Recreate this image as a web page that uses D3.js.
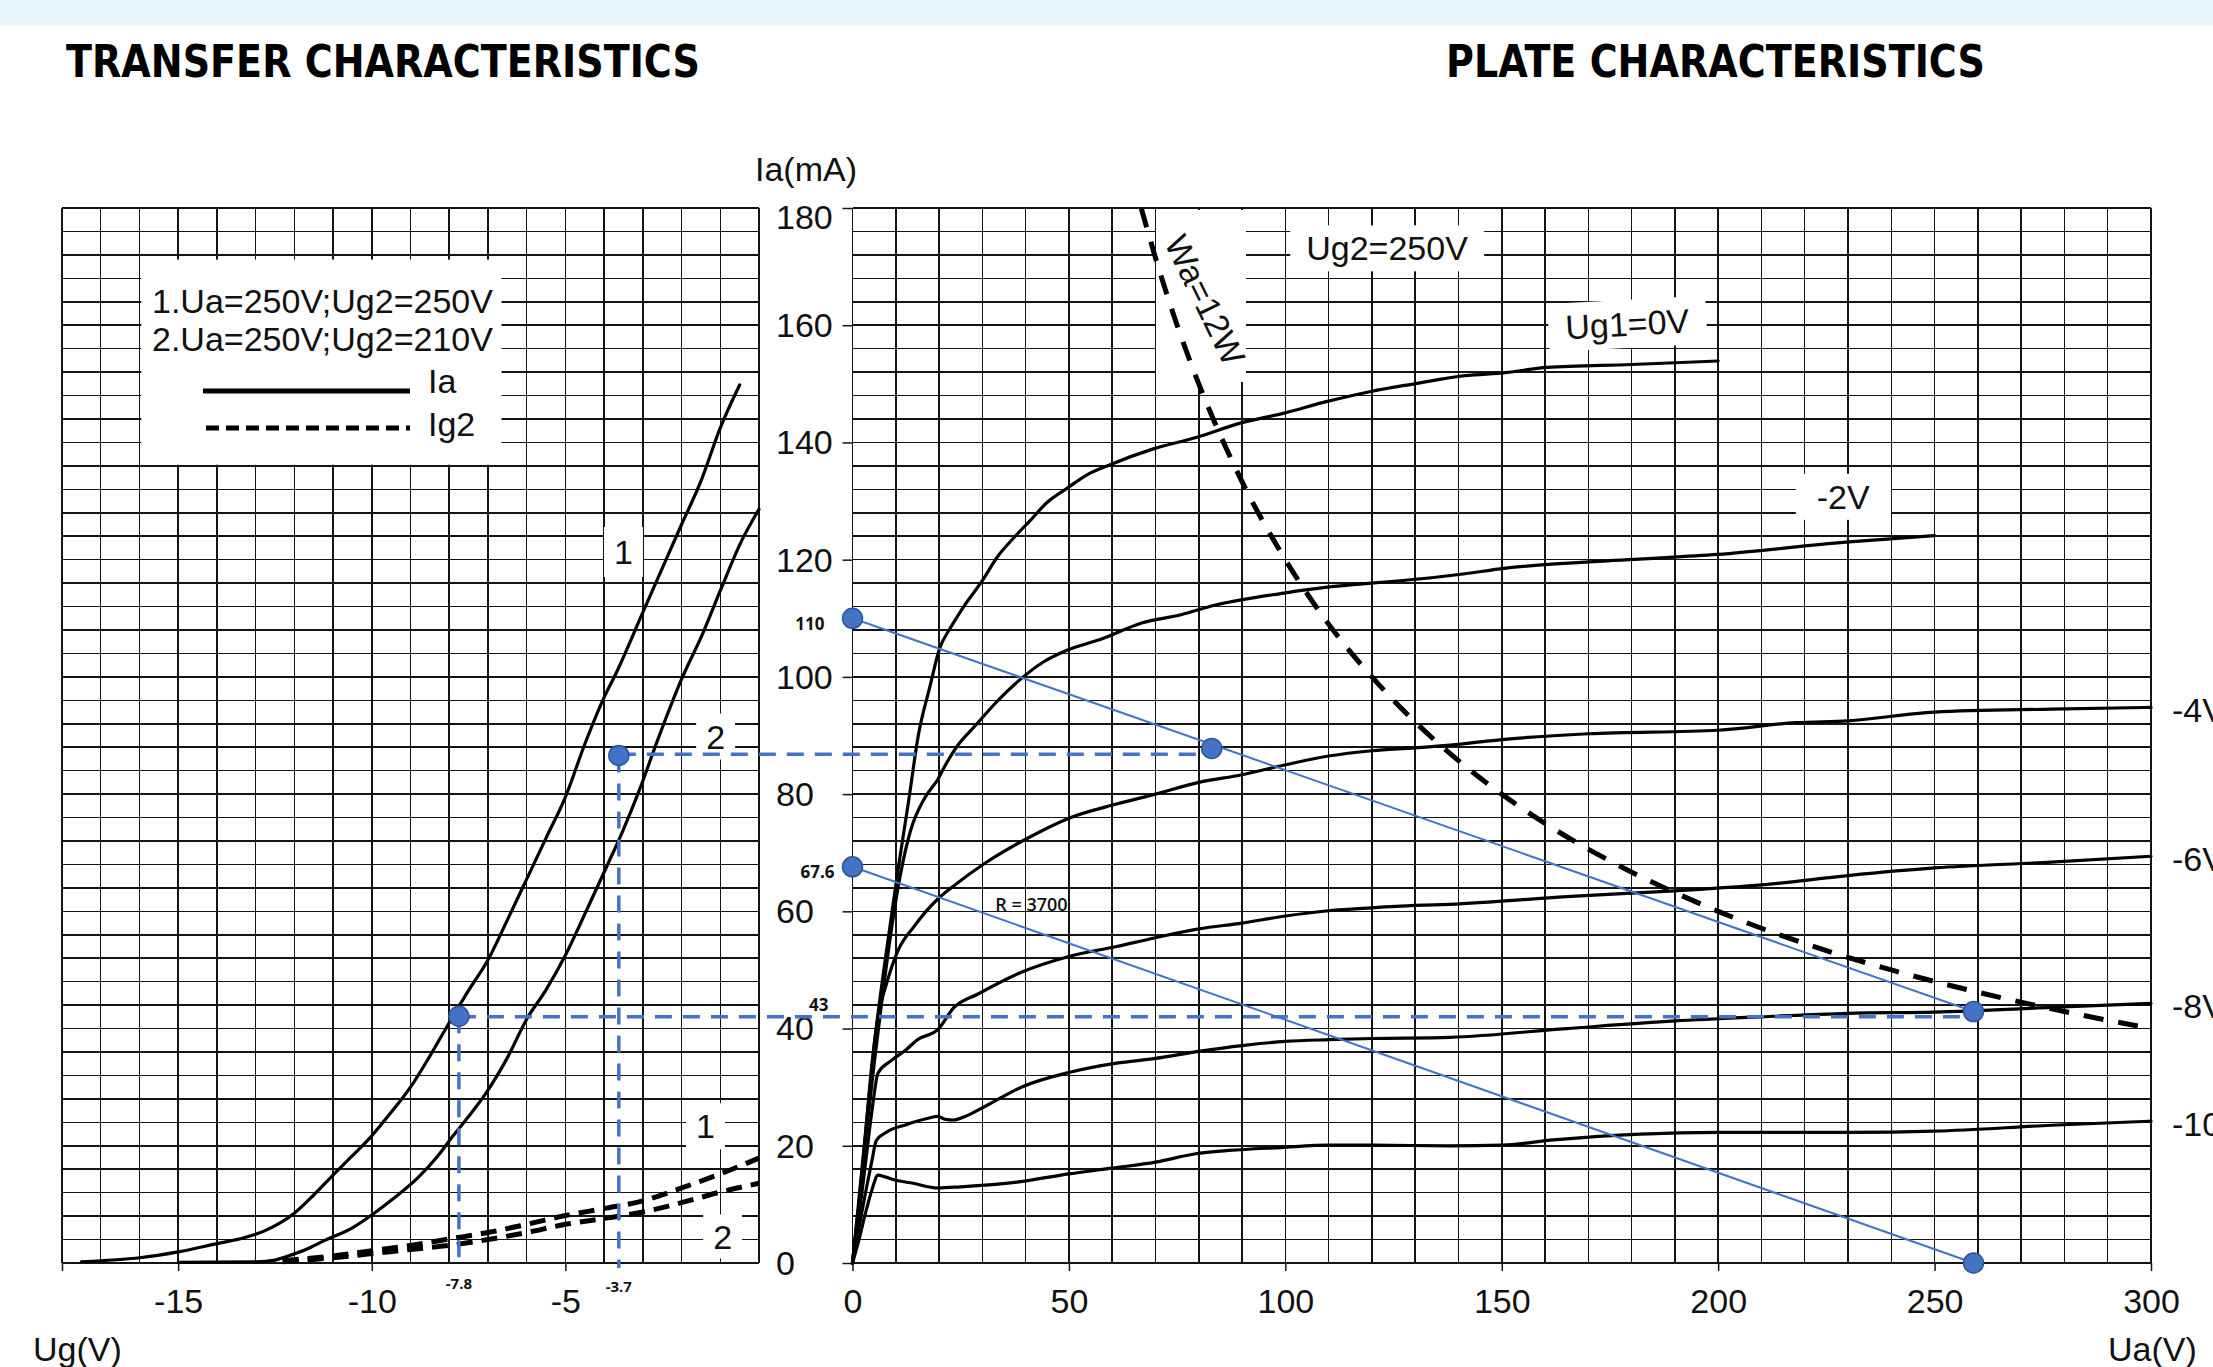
<!DOCTYPE html>
<html><head><meta charset="utf-8">
<script src="https://cdn.jsdelivr.net/npm/d3@7"></script>
<style>
html,body{margin:0;padding:0;background:#fff;overflow:hidden}
svg{display:block}
</style></head><body>
<svg id="chart" width="2213" height="1367"></svg>
<script>
// ================= DATA =================
const transferXTicks = [-15, -10, -5];
const plateXTicks = [0, 50, 100, 150, 200, 250, 300];
const iaTicks = [0, 20, 40, 60, 80, 100, 120, 140, 160, 180];

// Transfer characteristics: [Ug1 (V), mA]
const ia1 = [[-17.5,0.2],[-16.5,0.6],[-16,0.9],[-15,1.9],[-14,3.3],[-13.3,4.3],[-12.8,5.4],[-12.4,6.7],[-12,8.5],[-11.5,11.6],[-11,15],[-10.5,18.3],[-10,21.7],[-9.5,25.7],[-9,30],[-8.5,35.3],[-8,41],[-7.5,46.5],[-7,51.7],[-6.5,58.5],[-6,65.5],[-5.5,72.5],[-5,79.5],[-4.5,88.5],[-4,96.5],[-3.7,100.5],[-3,111],[-2.5,118.5],[-2,126],[-1.5,133.4],[-1,142.5],[-0.5,149.8]];
const ia2 = [[-15,0.1],[-13,0.2],[-12.5,0.5],[-12.2,1.1],[-11.7,2.3],[-11.2,3.9],[-10.5,6],[-10,8.2],[-9.4,11.2],[-8.8,14.6],[-8.3,18.2],[-7.9,21.7],[-7.5,25],[-7.1,28.5],[-6.5,35],[-6,41.6],[-5.5,46.6],[-5,52.5],[-4.5,59.5],[-3.95,67.4],[-3.5,74],[-3.1,80.5],[-2.63,89],[-2,99.6],[-1.44,107.6],[-1,114.7],[-0.45,123.2],[0,128.6]];
const ig2a = [[-12.3,0.4],[-11,1.2],[-10,2.1],[-9,3.0],[-8,4.1],[-7,5.2],[-6,6.6],[-5,8.1],[-4,9.3],[-3,10.6],[-2,12.8],[-1,15.2],[0,17.9]];
const ig2b = [[-12.3,0.2],[-11,0.9],[-10,1.6],[-9,2.3],[-8,3.0],[-7,4.0],[-6,5.2],[-5,6.6],[-4,7.6],[-3,8.7],[-2,10.3],[-1,12.1],[0,13.6]];

// Plate characteristics: [Ua (V), mA]
const ug1_0  = [[0,0],[1.5,11],[3.2,23.6],[5,37],[7.8,53],[10.5,67],[13,79],[15.2,90],[17.9,98.4],[20.2,105],[22.5,108.2],[25.7,112],[29.8,116.2],[33.5,120.5],[37.6,124],[41.2,126.8],[45,129.8],[49.4,132.1],[54,134.4],[59.5,136.2],[69.5,138.9],[79.6,140.9],[89.6,143.3],[99.7,145],[109.7,147],[119.8,148.7],[129.8,150],[141.5,151.4],[150.9,151.9],[160.4,152.8],[180,153.3],[200,153.9]];
const ug1_m2 = [[0,0],[1.5,10],[3,21],[5,34],[7,46],[9,57],[11,66],[13.3,73.5],[16.9,79.6],[19.7,82.5],[21.5,85],[24,88],[28.4,91.7],[33,95.5],[38.5,99.4],[44,102.5],[49.4,104.5],[57.7,106.5],[66.8,109.2],[75.9,110.6],[84.1,112.3],[99.7,114.3],[109.7,115.3],[119.8,116],[126.5,116.4],[141.5,117.6],[150.5,118.5],[179.2,120],[199.8,120.9],[229.5,123],[250,124.1]];
const ug1_m4 = [[0,0],[1.5,10],[3,22],[4.5,34],[5.9,42],[7.8,47.5],[10.5,53.3],[14.2,57.4],[19.7,62.1],[23.3,64.3],[30.6,68.2],[40,72.3],[50,75.9],[61,78.3],[70,80],[80,82],[90,83.3],[100,85],[110,86.5],[120,87.4],[130,87.9],[140,88.5],[150,89.3],[170,90.3],[200,90.9],[218,92.2],[230,92.5],[250,94],[277,94.5],[300,94.8]];
const ug1_m6 = [[0,0],[1.5,8],[3,17],[4.5,26],[5.9,32.4],[8.7,34.4],[12.4,36.4],[15,38.1],[19.7,39.8],[23.3,43.5],[29,45.9],[39,49.6],[50,52.3],[61,54],[70,55.5],[80,57],[90,58],[100,59.2],[110,60.1],[120,60.6],[130,61],[138,61.2],[165,62.5],[190,63.5],[210,64.5],[230,66.1],[250,67.4],[277,68.4],[300,69.4]];
const ug1_m8 = [[0,0],[1.5,6],[3,12],[4.5,17.5],[5.5,20.9],[7.8,22.3],[12.4,23.6],[17,24.6],[19.7,25],[21.5,24.5],[23.3,24.4],[26,25],[30.6,26.7],[39,30],[50,32.5],[61,34.1],[70,34.9],[80,36.1],[90,37.1],[100,37.8],[110,38.1],[120,38.3],[138,38.5],[165,40],[190,41.3],[210,42],[230,42.6],[250,42.8],[277,43.6],[300,44.3]];
const ug1_m10 = [[0,0],[1.5,4],[3,8.5],[4.5,12.5],[5.9,15],[7.5,14.7],[9.6,14.2],[14,13.6],[19.7,12.8],[25,13],[38,13.8],[50,15.2],[60,16.2],[70,17.2],[79,18.6],[87,19.2],[99,19.7],[110,20.1],[120,20.1],[138,20],[150,20.1],[162,21],[182,22],[200,22.3],[230,22.3],[250,22.5],[277,23.5],[300,24.2]];
const wa12W = [[66.7,180],[70,171.5],[75,160],[80,150],[85,141.2],[90,133.3],[100,120],[110,109],[120,100],[130,92.3],[140,85.7],[150,80],[160,75],[175,68.6],[190,63.2],[200,60],[220,54.5],[240,50],[260,46.2],[280,42.9],[300,40]];

const plateCurveNames = ["Ug1=0V", "-2V", "-4V", "-6V", "-8V", "-10V"];

// Load lines and operating points
const loadLine1 = [[0,110],[259,42.9]];
const loadLine2 = [[0,67.6],[259,0]];
const plateDots = [[0,110],[83,87.8],[259,42.9],[0,67.6],[259,0]];
const transferDots = [[-7.75,42.1],[-3.62,86.6]];
const projLevels = [42.0, 86.8];          // mA of dashed projections
const projPlateEnd = [259, 81];           // Ua where dashed projection ends
const gridVoltages = [-7.8, -3.7];        // annotated Ug values

// ================= DRAWING =================
const svg = d3.select("#chart");
const FONT = '"Liberation Sans", Arial, sans-serif';
const INK = "#111";
const BLUE = "#4472C4";

const xL = d3.scaleLinear().domain([-18, 0]).range([62, 759]);
const xP = d3.scaleLinear().domain([0, 300]).range([852.5, 2151]);
const y  = d3.scaleLinear().domain([0, 180]).range([1263, 208]);

// background band
svg.append("rect").attr("x",0).attr("y",0).attr("width",2213).attr("height",26).attr("fill","#EAF5FC");

// titles
const titleFont = '"Liberation Sans Narrow","Arial Narrow","DejaVu Sans Condensed",sans-serif';
svg.append("text").attr("x",66).attr("y",77).attr("font-family",titleFont).attr("font-weight","bold")
  .attr("font-size",44).attr("textLength",634).attr("lengthAdjust","spacingAndGlyphs").attr("fill","#000")
  .text("TRANSFER CHARACTERISTICS");
svg.append("text").attr("x",1446).attr("y",77).attr("font-family",titleFont).attr("font-weight","bold")
  .attr("font-size",44).attr("textLength",539).attr("lengthAdjust","spacingAndGlyphs").attr("fill","#000")
  .text("PLATE CHARACTERISTICS");

// grids
function grid(xs, xDomain, step) {
  const g = svg.append("g").attr("stroke", "#141414").attr("stroke-width", 1.5).attr("shape-rendering","crispEdges");
  const xv = d3.range(xDomain[0], xDomain[1] + step/2, step);
  const yv = d3.range(0, 180 + 2, 4);
  g.selectAll("line.v").data(xv).join("line").attr("class","v")
    .attr("x1", d => xs(d)).attr("x2", d => xs(d)).attr("y1", y(0)).attr("y2", y(180));
  g.selectAll("line.h").data(yv).join("line").attr("class","h")
    .attr("x1", xs(xDomain[0])).attr("x2", xs(xDomain[1])).attr("y1", d => y(d)).attr("y2", d => y(d));
}
grid(xL, [-18, 0], 1);
grid(xP, [0, 300], 10);

// axes (ticks + labels)
function styleAxis(g) {
  g.select(".domain").remove();
  g.selectAll("line").attr("stroke", "#141414").attr("stroke-width", 1.5);
  g.selectAll("text").attr("font-family", FONT).attr("font-size", 34).attr("fill", INK);
}
svg.append("g").attr("transform", `translate(0,${y(0)})`)
  .call(d3.axisBottom(xP).tickValues(plateXTicks).tickSize(8).tickPadding(18).tickFormat(d => String(d)))
  .call(styleAxis);
svg.append("g").attr("transform", `translate(0,${y(0)})`)
  .call(d3.axisBottom(xL).tickValues([-18].concat(transferXTicks)).tickSize(8).tickPadding(18)
        .tickFormat(d => d === -18 ? "" : String(d)))
  .call(styleAxis);
svg.append("g").attr("transform", `translate(${xP(0)},0)`)
  .call(d3.axisLeft(y).tickValues(iaTicks).tickSize(10).tickFormat(""))
  .call(styleAxis);
svg.append("g").selectAll("text").data(iaTicks).join("text")
  .attr("x", 776).attr("y", d => y(d) + (d === 180 ? 9 : 0)).attr("dy", "0.35em")
  .attr("font-family", FONT).attr("font-size", 34).attr("fill", INK).text(d => d);

// axis titles
svg.append("text").attr("x",755).attr("y",181).attr("font-family",FONT).attr("font-size",34).attr("fill",INK).text("Ia(mA)");
svg.append("text").attr("x",33).attr("y",1361).attr("font-family",FONT).attr("font-size",34).attr("fill",INK).text("Ug(V)");
svg.append("text").attr("x",2108).attr("y",1361).attr("font-family",FONT).attr("font-size",34).attr("fill",INK).text("Ua(V)");

// label helper with white background box
function boxedLabel(x, yy, txt, padX, padY, opts = {}) {
  const g = svg.append("g");
  const r = g.append("rect").attr("fill", "#fff");
  const t = g.append("text").attr("x", x).attr("y", yy).attr("dy", "0.35em")
    .attr("text-anchor", "middle").attr("font-family", FONT).attr("font-size", opts.size || 34).attr("fill", INK).text(txt);
  const b = t.node().getBBox();
  r.attr("x", b.x - padX).attr("y", b.y - padY).attr("width", b.width + 2*padX).attr("height", b.height + 2*padY);
  if (opts.rotate) g.attr("transform", `rotate(${opts.rotate},${x},${yy})`);
  return g;
}

// legend box (transfer)
svg.append("rect").attr("x", xL(-15.95)).attr("y", y(171.2)).attr("width", xL(-6.65) - xL(-15.95))
  .attr("height", y(136.2) - y(171.2)).attr("fill", "#fff");
svg.append("text").attr("x",152).attr("y",313).attr("font-family",FONT).attr("font-size",34).attr("fill",INK).text("1.Ua=250V;Ug2=250V");
svg.append("text").attr("x",152).attr("y",351).attr("font-family",FONT).attr("font-size",34).attr("fill",INK).text("2.Ua=250V;Ug2=210V");
svg.append("line").attr("x1",203).attr("x2",410).attr("y1",391).attr("y2",391).attr("stroke","#000").attr("stroke-width",5);
svg.append("line").attr("x1",206).attr("x2",410).attr("y1",428).attr("y2",428).attr("stroke","#000").attr("stroke-width",5).attr("stroke-dasharray","13,7");
svg.append("text").attr("x",428).attr("y",393).attr("font-family",FONT).attr("font-size",34).attr("fill",INK).text("Ia");
svg.append("text").attr("x",428).attr("y",436).attr("font-family",FONT).attr("font-size",34).attr("fill",INK).text("Ig2");

// curve labels (transfer)
boxedLabel(xL(-3.5), y(121.3), "1", 10, 6);
boxedLabel(xL(-1.12), y(89.8), "2", 10, 4);
boxedLabel(xL(-1.38), y(23.3), "1", 10, 4);
boxedLabel(xL(-0.94), y(4.5), "2", 10, 3);

// plate labels
boxedLabel(xP(123.5), y(173.1), "Ug2=250V", 16, 4);
boxedLabel(xP(179), y(160.2), "Ug1=0V", 17, 5, {rotate: -3});
boxedLabel(xP(228.9), y(130.7), "-2V", 21, 4);
// Wa label background
svg.append("rect").attr("x", 1156).attr("y", y(180)+2).attr("width", 90).attr("height", 172).attr("fill", "#fff");

// curves
const lineL = d3.line().x(d => xL(d[0])).y(d => y(d[1])).curve(d3.curveMonotoneX);
const lineP = d3.line().x(d => xP(d[0])).y(d => y(d[1])).curve(d3.curveMonotoneX);
const curveG = svg.append("g").attr("fill", "none").attr("stroke", "#000").attr("stroke-linejoin","round").attr("stroke-linecap","round");
[ia1, ia2].forEach(c => curveG.append("path").attr("d", lineL(c)).attr("stroke-width", 3.2));
[ig2a, ig2b].forEach(c => curveG.append("path").attr("d", lineL(c)).attr("stroke-width", 5)
   .attr("stroke-dasharray", "16,9").attr("stroke-linecap","butt"));
const plateCurves = [ug1_0, ug1_m2, ug1_m4, ug1_m6, ug1_m8, ug1_m10];
plateCurves.forEach(c => curveG.append("path").attr("d", lineP(c)).attr("stroke-width", 3.2));
curveG.append("path").attr("d", lineP(wa12W)).attr("stroke-width", 5).attr("stroke-dasharray", "20,15").attr("stroke-linecap","butt");

// Wa label text
svg.append("text").attr("x", 1205).attr("y", 300).attr("dy", "0.35em").attr("text-anchor","middle")
  .attr("transform", "rotate(64,1205,300)").attr("font-family", FONT).attr("font-size", 34).attr("fill", INK).text("Wa=12W");

// end labels of plate curves (cut by the page edge, as in the source)
plateCurves.slice(2).forEach((c, i) => {
  svg.append("text").attr("x", 2172).attr("y", y(c[c.length-1][1]) + 3).attr("dy","0.35em")
    .attr("font-family", FONT).attr("font-size", 34).attr("fill", INK).text(plateCurveNames[i+2]);
});

// blue construction lines
const blueG = svg.append("g").attr("fill","none").attr("stroke", BLUE);
[loadLine1, loadLine2].forEach(l => blueG.append("path").attr("d", d3.line().x(d => xP(d[0])).y(d => y(d[1]))(l)).attr("stroke-width", 2));
transferDots.forEach((p, i) => {
  blueG.append("line").attr("x1", xL(p[0])).attr("x2", xP(projPlateEnd[i])).attr("y1", y(projLevels[i])).attr("y2", y(projLevels[i]))
    .attr("stroke-width", 3.5).attr("stroke-dasharray", "17,11");
  blueG.append("line").attr("x1", xL(p[0])).attr("x2", xL(p[0])).attr("y1", y(p[1])).attr("y2", y(0) + 5)
    .attr("stroke-width", 3.5).attr("stroke-dasharray", "17,11");
});
const dotG = svg.append("g").attr("fill", BLUE).attr("stroke", "#2E5597").attr("stroke-width", 1.5);
plateDots.forEach(p => dotG.append("circle").attr("cx", xP(p[0])).attr("cy", y(p[1])).attr("r", 10));
transferDots.forEach(p => dotG.append("circle").attr("cx", xL(p[0])).attr("cy", y(p[1])).attr("r", 10));

// small annotations
const SMALL = '"Open Sans","Liberation Sans",sans-serif';
function small(x, yy, txt, anchor, size, weight) {
  svg.append("text").attr("x", x).attr("y", yy).attr("dy", "0.35em").attr("text-anchor", anchor)
    .attr("font-family", SMALL).attr("font-size", size).attr("font-weight", weight).attr("fill", "#111").text(txt);
}
small(xP(0) - 28, y(loadLine1[0][1]) + 6, "110", "end", 17, 700);
small(xP(0) - 18, y(loadLine2[0][1]) + 5, "67.6", "end", 17, 700);
small(xP(0) - 24, y(projLevels[0]) - 12, "43", "end", 17, 700);
small(xP(33), y(61.1), "R = 3700", "start", 18, 600);
gridVoltages.forEach((v, i) => small(xL(transferDots[i][0]), y(0) + 21 + i*3, String(v), "middle", 15, 700));
</script>
</body></html>
